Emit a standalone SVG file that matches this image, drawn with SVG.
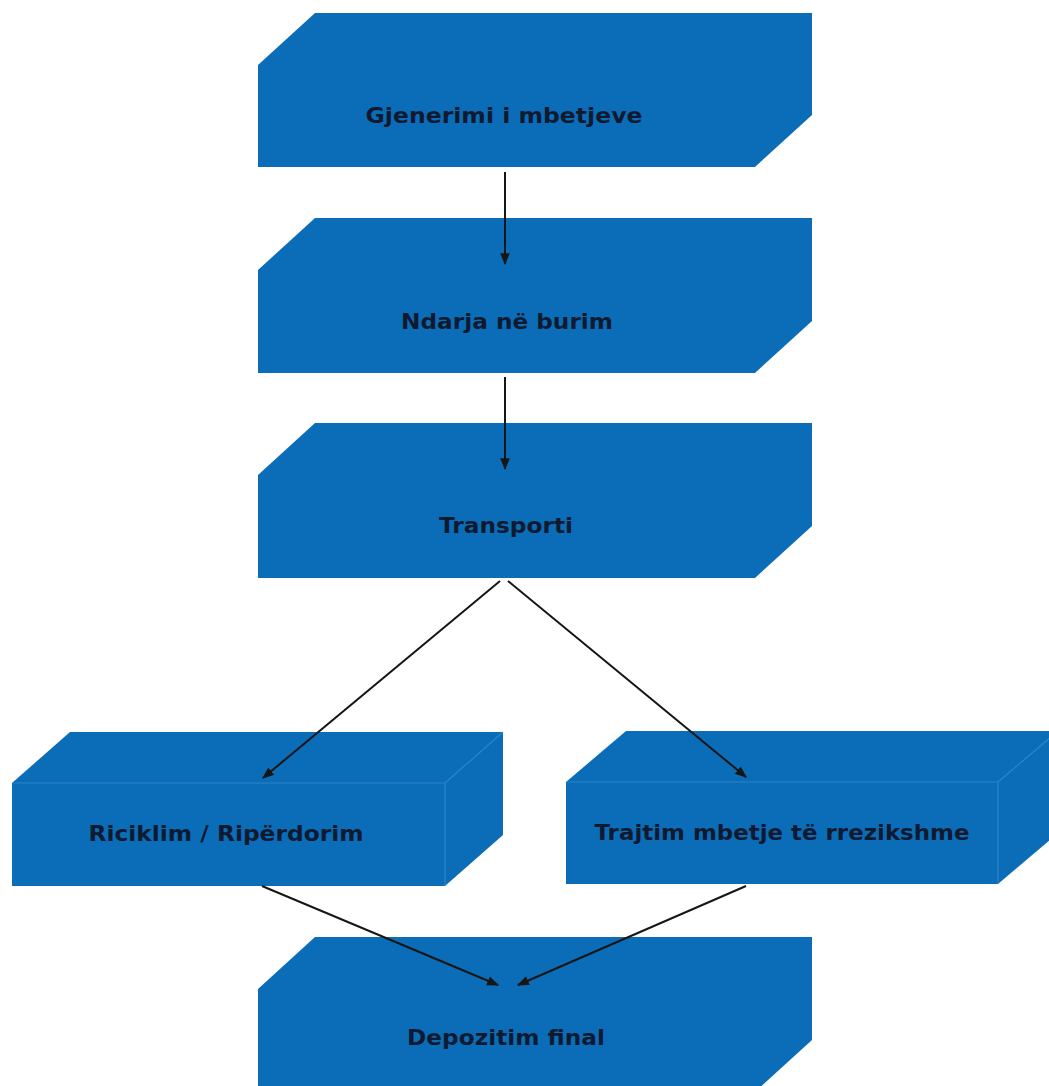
<svg xmlns="http://www.w3.org/2000/svg" width="1049" height="1086" viewBox="0 0 1049 1086">
<defs>
<style>
.box{fill:#0b6db7}
.edge{fill:none;stroke:#3b8fd3;stroke-width:1.2;opacity:0.7}
.lbl{font-family:"DejaVu Sans",Verdana,sans-serif;font-weight:bold;font-size:20.5px;fill:#0f1a30;text-anchor:middle}
.conn{stroke:#161616;stroke-width:2;fill:none}
</style>
<marker id="ah" viewBox="0 0 10 10" refX="9" refY="5" markerWidth="6" markerHeight="6" orient="auto" markerUnits="strokeWidth">
<path d="M0,1 L10,5 L0,9 Z" fill="#161616"/>
</marker>
</defs>
<rect width="1049" height="1086" fill="#ffffff"/>
<g id="node-gjenerimi">
<polygon class="box" points="258,65 315,13 812,13 812,115 755,167 258,167"/>
<text class="lbl" x="504" y="123" textLength="277" lengthAdjust="spacingAndGlyphs">Gjenerimi i mbetjeve</text>
</g>
<g id="node-ndarja">
<polygon class="box" points="258,270 315,218 812,218 812,321 755,373 258,373"/>
<text class="lbl" x="507" y="329" textLength="212" lengthAdjust="spacingAndGlyphs">Ndarja në burim</text>
</g>
<g id="node-transporti">
<polygon class="box" points="258,475 315,423 812,423 812,526 755,578 258,578"/>
<text class="lbl" x="506" y="533" textLength="134" lengthAdjust="spacingAndGlyphs">Transporti</text>
</g>
<g id="node-riciklim">
<polygon class="box" points="12,783 70,732 503,732 503,835 445,886 12,886"/>
<polyline class="edge" points="12,783 445,783 445,886"/>
<line class="edge" x1="445" y1="783" x2="503" y2="732"/>
<text class="lbl" x="226" y="841" textLength="275" lengthAdjust="spacingAndGlyphs">Riciklim / Ripërdorim</text>
</g>
<g id="node-trajtim">
<polygon class="box" points="566,782 626,731 1058,731 1058,833 998,884 566,884"/>
<polyline class="edge" points="566,782 998,782 998,884"/>
<line class="edge" x1="998" y1="782" x2="1058" y2="731"/>
<text class="lbl" x="782" y="840" textLength="375" lengthAdjust="spacingAndGlyphs">Trajtim mbetje të rrezikshme</text>
</g>
<g id="node-depozitim">
<polygon class="box" points="258,989 315,937 812,937 812,1040 755,1092 258,1092"/>
<text class="lbl" x="506" y="1045" textLength="198" lengthAdjust="spacingAndGlyphs">Depozitim final</text>
</g>
<g id="connectors">
<line class="conn" x1="505" y1="172" x2="505" y2="264" marker-end="url(#ah)"/>
<line class="conn" x1="505" y1="377" x2="505" y2="469" marker-end="url(#ah)"/>
<line class="conn" x1="500" y1="581" x2="263" y2="778" marker-end="url(#ah)"/>
<line class="conn" x1="508" y1="581" x2="746" y2="777" marker-end="url(#ah)"/>
<line class="conn" x1="262" y1="886" x2="498" y2="985" marker-end="url(#ah)"/>
<line class="conn" x1="746" y1="886" x2="518" y2="985" marker-end="url(#ah)"/>
</g>
</svg>
